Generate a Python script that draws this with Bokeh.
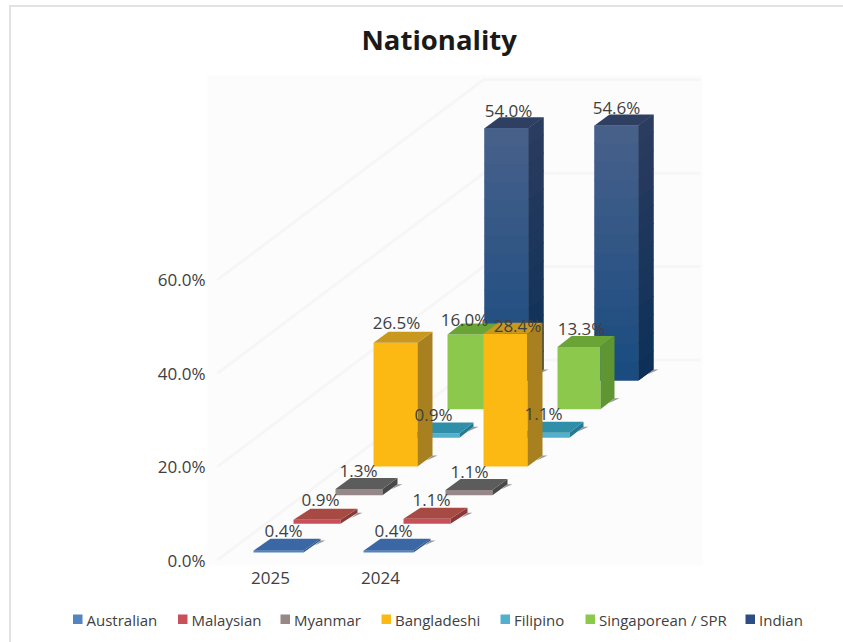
from bokeh.core.properties import value
from bokeh.embed import file_html
from bokeh.layouts import column, row
from bokeh.models import ColumnDataSource, FixedTicker, PrintfTickFormatter, Title
from bokeh.plotting import figure
from bokeh.resources import INLINE

# Survey shares, in percent
years = ["2025", "2024"]
nationalities = ["Australian", "Malaysian", "Myanmar", "Bangladeshi", "Filipino",
                 "Singaporean / SPR", "Indian"]
share_2025 = [0.4, 0.9, 1.3, 26.5, 0.9, 16.0, 54.0]
share_2024 = [0.4, 1.1, 1.1, 28.4, 1.1, 13.3, 54.6]
y_ticks = [0, 20, 40, 60]

# Face colours per nationality
front_colors = ["#5585c0", "#c8505a", "#968888", "#fdb913", "#52b0cc", "#8cc84b", "#2f4d85"]
top_colors = ["#3b68a5", "#a84a44", "#5c5c5c", "#c9991f", "#2f8ea8", "#6aa336", "#2e3f62"]
side_colors = ["#2f5588", "#8a3a36", "#484848", "#a9801f", "#247a92", "#5f9632", "#1c3355"]
text_color = "#404040"
FONT = "Open Sans"

# Oblique projection: pixel sizes converted to axis units
PX_PER_YEAR = 110.0
PX_PER_PCT = 4.67


def dx(px):
    return px / PX_PER_YEAR


def dy(px):
    return px / PX_PER_PCT


series_left = [-17, 23, 65, 103, 145, 177, 214]      # front-left corner of the 2025 bar
series_width = [50, 47, 47, 44, 44, 43, 44]
series_depth_x = [17, 17, 15, 15, 14, 14, 15]
series_depth_y = [12, 11, 11, 11, 11, 11, 11]
base_lift = [7.5 + 28.67 * i for i in range(7)]      # height of each row's floor line

# Per-label pixel nudges (x, y) relative to the bar's top edge, by year then nationality
label_nudge = [
    [(30, -8), (27, -9), (23, -8), (23, -9), (18, -8), (17, -4), (24, -7)],
    [(30, -8), (28, -8), (24, -8), (34, 3), (18, -8), (24, -8), (22, -7)],
]

p = figure(width=843, height=590, output_backend="svg", toolbar_location=None,
           x_range=(-63 / PX_PER_YEAR, 432 / PX_PER_YEAR),
           y_range=(-5.5 / PX_PER_PCT, 484.5 / PX_PER_PCT),
           min_border_left=207, min_border_right=141, min_border_top=75, min_border_bottom=25,
           background_fill_color="#fcfcfc", border_fill_color=None, outline_line_color=None)
p.grid.visible = False

p.title = Title(text="Nationality", align="left", offset=154, text_font=FONT,
                text_font_size="27.5px", text_font_style="bold", text_color="#1a1a1a",
                standoff=35)

# Axes
p.yaxis.ticker = FixedTicker(ticks=y_ticks)
p.yaxis.formatter = PrintfTickFormatter(format="%.1f%%")
p.xaxis.ticker = FixedTicker(ticks=list(range(len(years))))
p.xaxis.major_label_overrides = {i: y for i, y in enumerate(years)}
for axis in (p.xaxis[0], p.yaxis[0]):
    axis.axis_line_color = None
    axis.major_tick_line_color = None
    axis.minor_tick_line_color = None
    axis.major_tick_out = 0
    axis.major_tick_in = 0
    axis.minor_tick_out = 0
    axis.major_label_text_font = FONT
    axis.major_label_text_font_size = "17px"
    axis.major_label_text_color = text_color
p.yaxis.major_label_standoff = 2
p.xaxis.major_label_standoff = 6

# Gridlines run along the floor towards the back wall, then across it
for tick in y_ticks:
    xs = [dx(-53), dx(-53 + 266), dx(430)]
    ys = [tick, tick + dy(200), tick + dy(200)]
    p.line(xs, ys, line_color="#f6f6f6", line_width=3)


def lerp_color(a, b, t):
    ca = [int(a[i:i + 2], 16) for i in (1, 3, 5)]
    cb = [int(b[i:i + 2], 16) for i in (1, 3, 5)]
    return "#" + "".join(f"{round(u + (v - u) * t):02x}" for u, v in zip(ca, cb))


def draw_bar(series, year_index, val):
    left = year_index + dx(series_left[series])
    right = left + dx(series_width[series])
    base = dy(base_lift[series])
    top = base + val
    ox, oy = dx(series_depth_x[series]), dy(series_depth_y[series])

    # Small contact shadow at the back-right foot
    p.patch([right + ox, right + ox + dx(5), right + ox - dx(6)],
            [base + oy, base + oy, base + oy - dy(5)],
            fill_color="#555555", fill_alpha=0.6, line_color=None)
    p.quad(left=left, right=right, bottom=base, top=top,
           fill_color=front_colors[series], line_color=None)
    p.patch([right, right + ox, right + ox, right], [base, base + oy, top + oy, top],
            fill_color=side_colors[series], line_color=None)
    p.patch([left, left + ox, right + ox, right], [top, top + oy, top + oy, top],
            fill_color=top_colors[series], line_color=None)

    if nationalities[series] == "Indian":
        # The tallest columns fade from slate at the top to deep blue at the foot
        bands = 14
        for k in range(bands):
            t = k / (bands - 1)
            b0, b1 = base + val * k / bands, base + val * (k + 1) / bands
            lap = dy(1) if k < bands - 1 else 0
            p.quad(left=left, right=right, bottom=b0, top=b1 + lap,
                   fill_color=lerp_color("#1a4c80", "#46608a", t), line_color=None)
            p.patch([right, right + ox, right + ox, right], [b0, b0 + oy, b1 + oy + lap, b1 + lap],
                    fill_color=lerp_color("#0e3058", "#2a3c5f", t), line_color=None)


# Back rows first so that nearer bars cover them
for series in reversed(range(len(nationalities))):
    for year_index, values in enumerate((share_2025, share_2024)):
        draw_bar(series, year_index, values[series])

# Value labels sit above every bar
label_x, label_y, label_text, off_x, off_y = [], [], [], [], []
for year_index, values in enumerate((share_2025, share_2024)):
    for series, val in enumerate(values):
        nudge = label_nudge[year_index][series]
        label_x.append(year_index + dx(series_left[series]))
        label_y.append(dy(base_lift[series]) + val + dy(series_depth_y[series]))
        label_text.append(f"{val:.1f}%")
        off_x.append(nudge[0])
        off_y.append(nudge[1])
labels = ColumnDataSource(dict(x=label_x, y=label_y, text=label_text, x_off=off_x, y_off=off_y))
p.text("x", "y", text="text", source=labels, x_offset="x_off", y_offset="y_off",
       text_align="center", text_baseline="middle", text_font=value(FONT),
       text_font_size="17px", text_color=text_color)

# Key row below the chart, in a strip of its own so nothing clips it
swatch_left = [72.5, 177.5, 280, 381, 500, 585, 745]
strip = figure(width=843, height=52, output_backend="svg", toolbar_location=None,
               x_axis_location=None, y_axis_location=None, min_border=0,
               x_range=(0, 843), y_range=(0, 52),
               background_fill_color=None, border_fill_color=None, outline_line_color=None)
strip.grid.visible = False
strip.quad(left=swatch_left, right=[x + 9.5 for x in swatch_left],
           bottom=18.5, top=28, fill_color=front_colors, line_color=None)
strip.text(x=[x + 13.5 for x in swatch_left], y=23, text=nationalities,
           text_align="left", text_baseline="middle", text_font=value(FONT),
           text_font_size="15px", text_color=text_color)

# Thin rule along the top and left of the chart card, painted behind the transparent canvases
page = column(p, row(strip), spacing=0, styles={
    "background": "linear-gradient(#e2e2e2,#e2e2e2) 9px 5px/2px 637px no-repeat,"
                  "linear-gradient(#e2e2e2,#e2e2e2) 9px 5px/834px 2px no-repeat",
})

open("out.html", "w").write(file_html(page, INLINE))
